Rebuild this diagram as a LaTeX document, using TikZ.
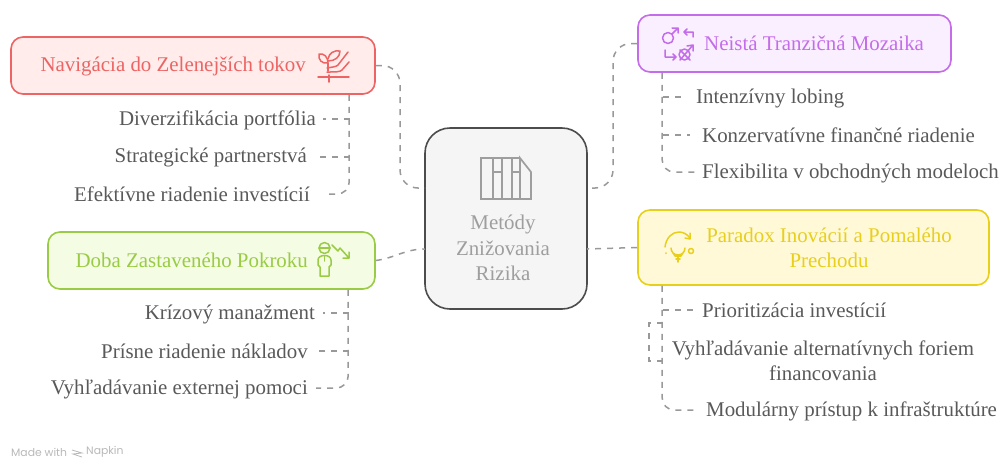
\documentclass[tikz,border=0pt]{standalone}
\usepackage{fontspec}
\setmainfont{Liberation Serif}
\newfontfamily\napkinfont{Poppins}
\usetikzlibrary{calc}

\definecolor{redline}{HTML}{EC6464}
\definecolor{redfill}{HTML}{FFECEB}
\definecolor{greenline}{HTML}{9ACB45}
\definecolor{greenfill}{HTML}{F4FCE4}
\definecolor{purpleline}{HTML}{C46CEA}
\definecolor{purplefill}{HTML}{FAEFFF}
\definecolor{yellowline}{HTML}{E8CF1C}
\definecolor{yellowfill}{HTML}{FFF9D8}
\definecolor{leafgray}{HTML}{595959}
\definecolor{linkgray}{HTML}{999999}

\tikzset{
    topicbox/.style={draw, line width=1.6pt, rounded corners=12pt, inner sep=0pt},
    titletext/.style={font=\fontsize{20.9}{25.3}\selectfont, align=center, inner sep=0pt},
    leaftext/.style={font=\fontsize{20.9}{25.3}\selectfont, text=leafgray, align=center, inner sep=0pt},
    link/.style={linkgray, line width=1.5pt, dash pattern=on 6pt off 6pt},
    icon/.style={line width=1.5pt, line cap=round, line join=round}
}

\begin{document}
\begin{tikzpicture}[x=1pt, y=-1pt]
    \useasboundingbox (0,0) rectangle (1002,459);

    % Center
    \node[draw=black!70, fill=black!4, line width=1.6pt, rounded corners=25pt, minimum width=162pt, minimum height=181pt] (metody) at (506,218.5) {};
    \node[titletext, text=black!38] (metodytext) at (503,248) {Metódy\\Znižovania\\Rizika};
    \coordinate (metodyLT) at (425,188);
    \coordinate (metodyLB) at (425,249);
    \coordinate (metodyRT) at (587,188);
    \coordinate (metodyRB) at (587,249);

    % Topic boxes
    \node[topicbox, draw=redline, fill=redfill, minimum width=364pt, minimum height=57pt] (navbox) at (193,65.5) {};
    \node[topicbox, draw=greenline, fill=greenfill, minimum width=327pt, minimum height=57pt] (dobabox) at (211.5,260.5) {};
    \node[topicbox, draw=purpleline, fill=purplefill, minimum width=313pt, minimum height=57pt] (neistabox) at (794.5,43.5) {};
    \node[topicbox, draw=yellowline, fill=yellowfill, minimum width=351pt, minimum height=75pt] (paradoxbox) at (813.5,247.5) {};

    % Topic titles
    \node[titletext, text=redline, anchor=east] (navtext) at (306,66) {Navigácia do Zelenejších tokov};
    \node[titletext, text=greenline, anchor=east] (dobatext) at (308,260) {Doba Zastaveného Pokroku};
    \node[titletext, text=purpleline, anchor=west] (neistatext) at (704,43) {Neistá Tranzičná Mozaika};
    \node[titletext, text=yellowline] (paradoxtext) at (829,247.5) {Paradox Inovácií a Pomalého\\Prechodu};

    % Links to center
    \draw[link, rounded corners=18pt] (navbox.east) -| (400,188) -- (metodyLT);
    \draw[link] (dobabox.east) .. controls (395,258) and (405,249) .. (metodyLB);
    \draw[link, rounded corners=18pt] (neistabox.west) -| (613,188) -- (metodyRT);
    \draw[link] (paradoxbox.west) -- (metodyRB);

    % Left leaves
    \node[leaftext, anchor=east] (nav1) at (316,120) {Diverzifikácia portfólia};
    \node[leaftext, anchor=east] (nav2) at (307,157) {Strategické partnerstvá};
    \node[leaftext, anchor=east] (nav3) at (310,194) {Efektívne riadenie investícií};
    \node[leaftext, anchor=east] (doba1) at (315,314) {Krízový manažment};
    \node[leaftext, anchor=east] (doba2) at (308,351) {Prísne riadenie nákladov};
    \node[leaftext, anchor=east] (doba3) at (308,389) {Vyhľadávanie externej pomoci};

    % Right leaves
    \node[leaftext, anchor=west] (neista1) at (696,98) {Intenzívny lobing};
    \node[leaftext, anchor=west] (neista2) at (702,135) {Konzervatívne finančné riadenie};
    \node[leaftext, anchor=west] (neista3) at (702,173) {Flexibilita v obchodných modeloch};
    \node[leaftext, anchor=west] (paradox1) at (702,310) {Prioritizácia investícií};
    \node[leaftext] (paradox2) at (823,360.5) {Vyhľadávanie alternatívnych foriem\\financovania};
    \node[leaftext, anchor=west] (paradox3) at (706,411) {Modulárny prístup k infraštruktúre};

    % Leaf links
    \draw[link, rounded corners=12pt] ($(navbox.south west)+(339,0)$) |- ($(nav3.east)+(15,0)$);
    \draw[link] (350,119) -- ($(nav1.east)+(7,-1)$);
    \draw[link] (350,157) -- ($(nav2.east)+(11,0)$);
    \draw[link, rounded corners=12pt] ($(dobabox.south west)+(301,0)$) |- ($(doba3.east)+(8,-1)$);
    \draw[link] (349,313) -- ($(doba1.east)+(8,-1)$);
    \draw[link] (349,351) -- ($(doba2.east)+(10,0)$);
    \draw[link, rounded corners=12pt] ($(neistabox.south west)+(25,0)$) |- ($(neista3.west)+(-5,-1)$);
    \draw[link] (663,97) -- ($(neista1.west)+(-14,-1)$);
    \draw[link] (663,135) -- ($(neista2.west)+(-12,0)$);
    \draw[link, rounded corners=12pt] ($(paradoxbox.south west)+(25,0)$) |- ($(paradox3.west)+(-9,-1)$);
    \draw[link] (663,310) -- ($(paradox1.west)+(-7,0)$);
    \draw[link] (663,323) -- (649,323) -- (649,361) -- (663,361);

    % Icon center
    \begin{scope}[black!38, line width=1.7pt, line join=miter]
        \draw (520,158) -- (481,158) -- (481,199) -- (531,199) -- (531,172) -- (520,158) -- (520,199);
        \draw (493,158) -- (493,199) (502,158) -- (502,199) (512,158) -- (512,199);
        \draw (493,172) -- (502,172) (512,172) -- (520,172);
    \end{scope}

    % Icon plant
    \begin{scope}[redline, icon]
        \draw (318,77) -- (349,77) (329,75) -- (329,82);
        \draw (328,71) -- (328,63);
        \draw (319,54) .. controls (318,60) and (322,64) .. (328,63) .. controls (328,57) and (324,53) .. (319,54);
        \draw (328,59) .. controls (329,53) and (334,50) .. (340,51) .. controls (340,57) and (335,61) .. (328,61);
        \draw (348,52) -- (338,65) .. controls (336,67) and (332,67) .. (327,68);
        \draw (349,62) -- (342,70) .. controls (340,72) and (336,72) .. (327,72);
    \end{scope}

    % Icon person
    \begin{scope}[greenline, icon]
        \draw (324.5,248) circle (5.5);
        \draw (319,248) -- (330,248) (324.5,256) -- (324.5,261);
        \draw (320,276) -- (320,267) -- (318,265) -- (318,260) .. controls (318,254) and (331,254) .. (331,260) -- (331,265) -- (329,267) -- (329,276) -- cycle;
        \draw (332,245) -- (338,251) -- (340,248) -- (349,258) (349,252) -- (349,258) -- (343,258);
    \end{scope}

    % Icon swap
    \begin{scope}[purpleline, icon]
        \draw (668,38) circle (5.5);
        \draw (672,34) -- (678,28) (672,28) -- (678,28) -- (678,33);
        \draw (693,37) -- (693,32) -- (684,32) (687,29) -- (684,32) -- (687,35);
        \draw (665,50) -- (665,57) -- (676,57) (673,54) -- (676,57) -- (673,60);
        \draw (680,60) -- (693,45) (687,46) -- (693,45) -- (693,51);
        \draw (684.5,54.5) circle (5.5);
        \draw (680,50) -- (690,60);
    \end{scope}

    % Icon bulb
    \begin{scope}[yellowline, icon]
        \draw (675,256) .. controls (674,253) and (671,252) .. (671,248) arc (180:0:7) .. controls (685,252) and (682,253) .. (681,256) -- cycle;
        \draw (676,259) -- (680,259) (678,256) -- (678,262);
        \draw (665,247) .. controls (666,238) and (672,232) .. (679,232) .. controls (683,232) and (687,234) .. (690,238);
        \draw (690,233) -- (690,239) -- (685,238);
        \draw (691,251) circle (2.5);
        \draw (666,253) -- (666,253.3);
    \end{scope}

    % Footer
    \node[font=\napkinfont\fontsize{10.8}{12}\selectfont, text=black!28, anchor=west, inner sep=0pt] (madewith) at (11,452) {Made with};
    \node[font=\napkinfont\fontsize{10.8}{12}\selectfont, text=black!28, anchor=west, inner sep=0pt] (napkin) at (86,452) {Napkin};
    \draw[black!28, line width=0.8pt] (72,450) -- (82,453) -- (73,454) -- (82,457);
\end{tikzpicture}
\end{document}
